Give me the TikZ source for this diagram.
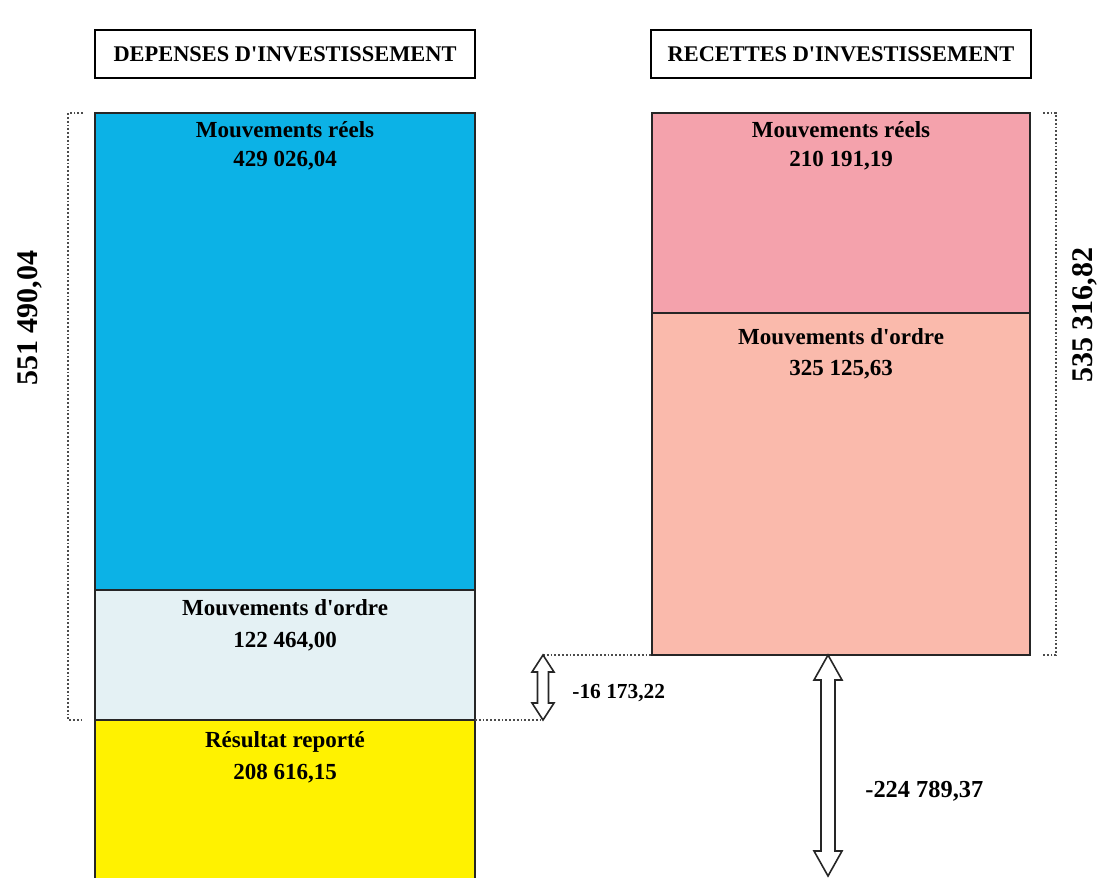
\documentclass[tikz,border=0pt]{standalone}
\usepackage{fontspec}
\setmainfont{Liberation Serif}
\usetikzlibrary{positioning,calc}
\definecolor{reelsbleu}{RGB}{12,178,230}
\definecolor{ordrepale}{RGB}{228,241,244}
\definecolor{resjaune}{RGB}{255,242,0}
\definecolor{reelsrose}{RGB}{244,162,172}
\definecolor{ordresaumon}{RGB}{250,186,172}

\begin{document}
\begin{tikzpicture}[x=0.5pt,y=-0.5pt,
    bloc/.style={draw=black!85,line width=0.7pt},
    titre/.style={draw,line width=0.8pt,minimum width=190pt,minimum height=24pt,
      inner sep=0pt,font=\fontsize{11.2}{13}\selectfont\bfseries},
    texte/.style={anchor=base,inner sep=0pt,font=\fontsize{11.5}{13}\selectfont\bfseries},
    total/.style={rotate=90,inner sep=0pt,font=\fontsize{15}{17}\selectfont\bfseries},
    ecart/.style={anchor=west,inner sep=0pt,font=\fontsize{#1}{13}\selectfont\bfseries},
    pointille/.style={densely dotted,line width=0.9pt,black!70},
    creuse/.style={draw=black!85,fill=white,line width=0.8pt,line join=miter}]
  \useasboundingbox (0,0) rectangle (1111,877);
  \clip (0,0) rectangle (1111,877);
  % Define coordinates
  \path
    (95,113) coordinate (DH)
    (475,590) coordinate (DM)
    (475,720) coordinate (DB)
    (652,113) coordinate (RH)
    (1030,313) coordinate (RM)
    (1030,655) coordinate (RB)
    (543,655) coordinate (f1h)
    (543,720) coordinate (f1b)
    (828,655) coordinate (f2h)
    (828,876) coordinate (f2b)
  ;
  % Titles
  \node[titre] (tdep) at (285,54) {DEPENSES D\textquotesingle INVESTISSEMENT};
  \node[titre] (trec) at (841,54) {RECETTES D\textquotesingle INVESTISSEMENT};
  % Depenses
  \filldraw[bloc,fill=reelsbleu] (DH) rectangle (DM);
  \filldraw[bloc,fill=ordrepale] (DH|-DM) rectangle (DB);
  \filldraw[bloc,fill=resjaune] (DH|-DB) rectangle (475,900);
  \node[texte] (dreel) at (285,138) {Mouvements réels};
  \node[texte] (dreelv) at (285,167) {429 026,04};
  \node[texte] (dordre) at (285,615) {Mouvements d\textquotesingle ordre};
  \node[texte] (dordrev) at (285,647) {122 464,00};
  \node[texte] (dres) at (285,747) {Résultat reporté};
  \node[texte] (dresv) at (285,779) {208 616,15};
  % Recettes
  \filldraw[bloc,fill=reelsrose] (RH) rectangle (RM);
  \filldraw[bloc,fill=ordresaumon] (RH|-RM) rectangle (RB);
  \node[texte] (rreel) at (841,138) {Mouvements réels};
  \node[texte] (rreelv) at (841,167) {210 191,19};
  \node[texte] (rordre) at (841,344) {Mouvements d\textquotesingle ordre};
  \node[texte] (rordrev) at (841,375) {325 125,63};
  % Totals
  \draw[pointille] ($(DH)+(-12,0)$) -- ($(DH)+(-27,0)$) -- ($(DH|-DB)+(-27,0)$) -- ($(DH|-DB)+(-12,0)$);
  \node[total] (dtot) at (30,318) {551 490,04};
  \draw[pointille] ($(RM|-RH)+(13,0)$) -- ($(RM|-RH)+(26,0)$) -- ($(RB)+(26,0)$) -- ($(RB)+(13,0)$);
  \node[total] (rtot) at (1085,315) {535 316,82};
  % Gaps
  \draw[pointille] (DB) -- (f1b);
  \draw[pointille] (f1h) -- (RB-|RH);
  \draw[creuse] (f1h) -- ++(11,17) -- ++(-5.5,0) -- ($(f1b)+(5.5,-17)$) -- ++(5.5,0) -- (f1b)
    -- ++(-11,-17) -- ++(5.5,0) -- ($(f1h)+(-5.5,17)$) -- ++(-5.5,0) -- cycle;
  \node[ecart=10.7] (ecart1) at (572,693) {-16 173,22};
  \draw[creuse] (f2h) -- ++(14,25) -- ++(-7,0) -- ($(f2b)+(7,-25)$) -- ++(7,0) -- (f2b)
    -- ++(-14,-25) -- ++(7,0) -- ($(f2h)+(-7,25)$) -- ++(-7,0) -- cycle;
  \node[ecart=12.2] (ecart2) at (865,791) {-224 789,37};
\end{tikzpicture}
\end{document}
